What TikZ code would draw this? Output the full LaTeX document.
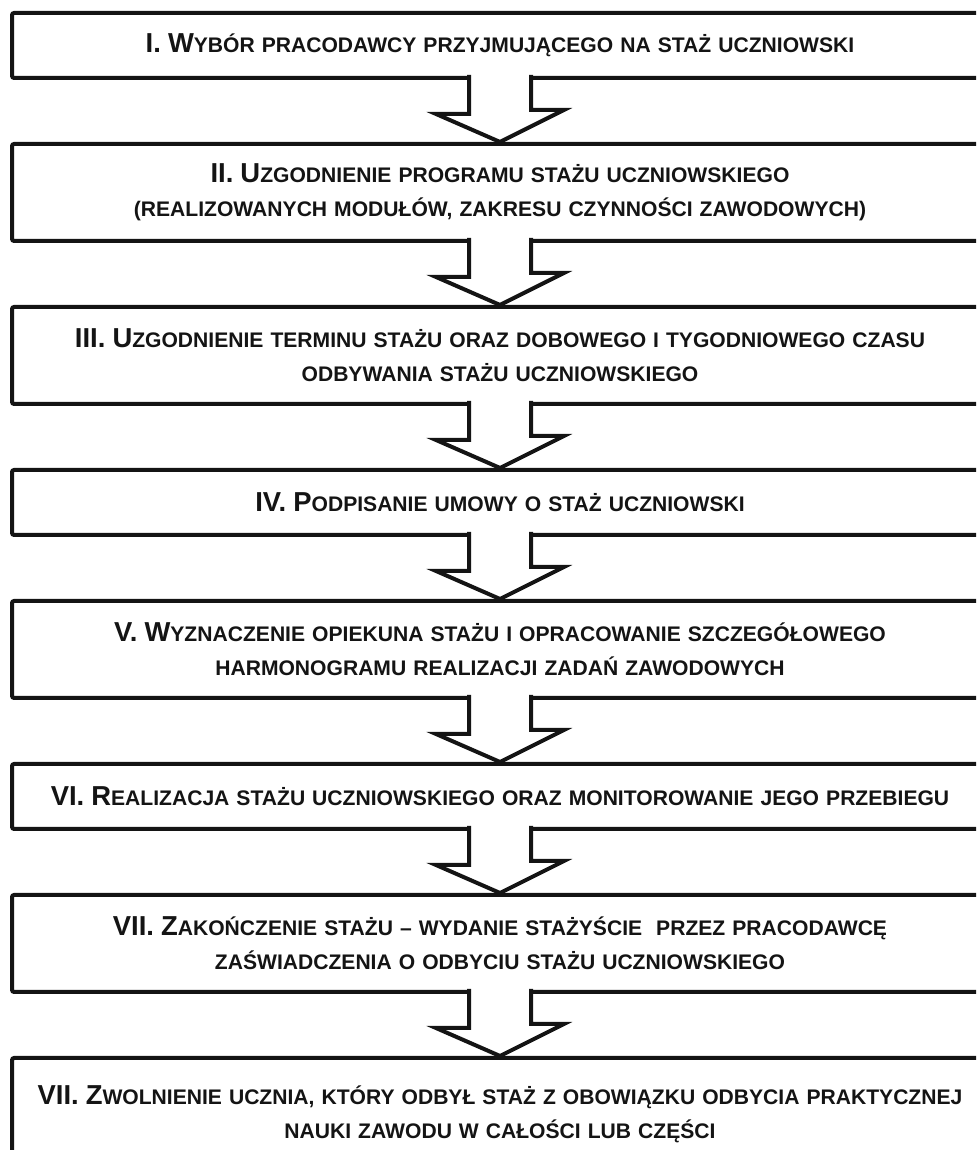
\documentclass[tikz,border=0pt]{standalone}
\usepackage{fontspec}
\setmainfont{Liberation Sans}
\usetikzlibrary{calc}
\definecolor{flowInk}{HTML}{141414}
\tikzset{
  stepbox/.style={draw=flowInk, line width=0.04cm, rounded corners=0.6pt,
                  fill=white, text=flowInk, align=center, inner sep=0pt,
                  minimum width=9.76cm, text width=9.6cm,
                  font=\fontsize{6}{9.7}\selectfont\bfseries},
  oneline/.style={stepbox, minimum height=0.65cm},
  twoline/.style={stepbox, minimum height=0.97cm},
  blockarrow/.style={draw=flowInk, fill=white, line width=0.04cm,
                     line join=miter}
}
% larger lead letters of each step title
\newcommand{\lead}[1]{{\fontsize{7.8}{9.7}\selectfont #1}}
% hollow block arrow from one step box to the next
\newcommand{\flowArrow}[2]{%
  \draw[blockarrow] ($(#1.south)+(-0.31,0.05)$) -- ++(0,-0.39)
    -- ++(-0.33,0) -- (#2.north) -- ++(0.64,0.32)
    -- ++(-0.33,0) -- ($(#1.south)+(0.31,0.05)$);}

\begin{document}
\begin{tikzpicture}

\useasboundingbox (0,0) rectangle (9.76,11.5);
\clip (0,0) rectangle (9.76,11.5);

% ------------------------------------------------------------
% STEPS OF THE STUDENT INTERNSHIP
% ------------------------------------------------------------
\node[oneline] (stepI) at (5.00,11.045)
{\lead{I. W}YBÓR PRACODAWCY PRZYJMUJĄCEGO NA STAŻ UCZNIOWSKI};
\node[twoline] (stepII) at (5.00,9.575)
{\lead{II. U}ZGODNIENIE PROGRAMU STAŻU UCZNIOWSKIEGO\\
(REALIZOWANYCH MODUŁÓW, ZAKRESU CZYNNOŚCI ZAWODOWYCH)};
\node[twoline] (stepIII) at (5.00,7.945)
{\lead{III. U}ZGODNIENIE TERMINU STAŻU ORAZ DOBOWEGO I TYGODNIOWEGO CZASU\\
ODBYWANIA STAŻU UCZNIOWSKIEGO};
\node[oneline] (stepIV) at (5.00,6.475)
{\lead{IV. P}ODPISANIE UMOWY O STAŻ UCZNIOWSKI};
\node[twoline] (stepV) at (5.00,5.005)
{\lead{V. W}YZNACZENIE OPIEKUNA STAŻU I OPRACOWANIE SZCZEGÓŁOWEGO\\
HARMONOGRAMU REALIZACJI ZADAŃ ZAWODOWYCH};
\node[oneline] (stepVI) at (5.00,3.535)
{\lead{VI. R}EALIZACJA STAŻU UCZNIOWSKIEGO ORAZ MONITOROWANIE JEGO PRZEBIEGU};
\node[twoline] (stepVII) at (5.00,2.065)
{\lead{VII. Z}AKOŃCZENIE STAŻU – WYDANIE STAŻYŚCIE\ \ PRZEZ PRACODAWCĘ\\
ZAŚWIADCZENIA O ODBYCIU STAŻU UCZNIOWSKIEGO};
\node[stepbox, minimum height=1.12cm] (stepVIII) at (5.00,0.36)
{\lead{VII. Z}WOLNIENIE UCZNIA, KTÓRY ODBYŁ STAŻ Z OBOWIĄZKU ODBYCIA PRAKTYCZNEJ\\
NAUKI ZAWODU W CAŁOŚCI LUB CZĘŚCI};

% ------------------------------------------------------------
% BLOCK ARROWS
% ------------------------------------------------------------
\flowArrow{stepI}{stepII}
\flowArrow{stepII}{stepIII}
\flowArrow{stepIII}{stepIV}
\flowArrow{stepIV}{stepV}
\flowArrow{stepV}{stepVI}
\flowArrow{stepVI}{stepVII}
\flowArrow{stepVII}{stepVIII}

\end{tikzpicture}
\end{document}
